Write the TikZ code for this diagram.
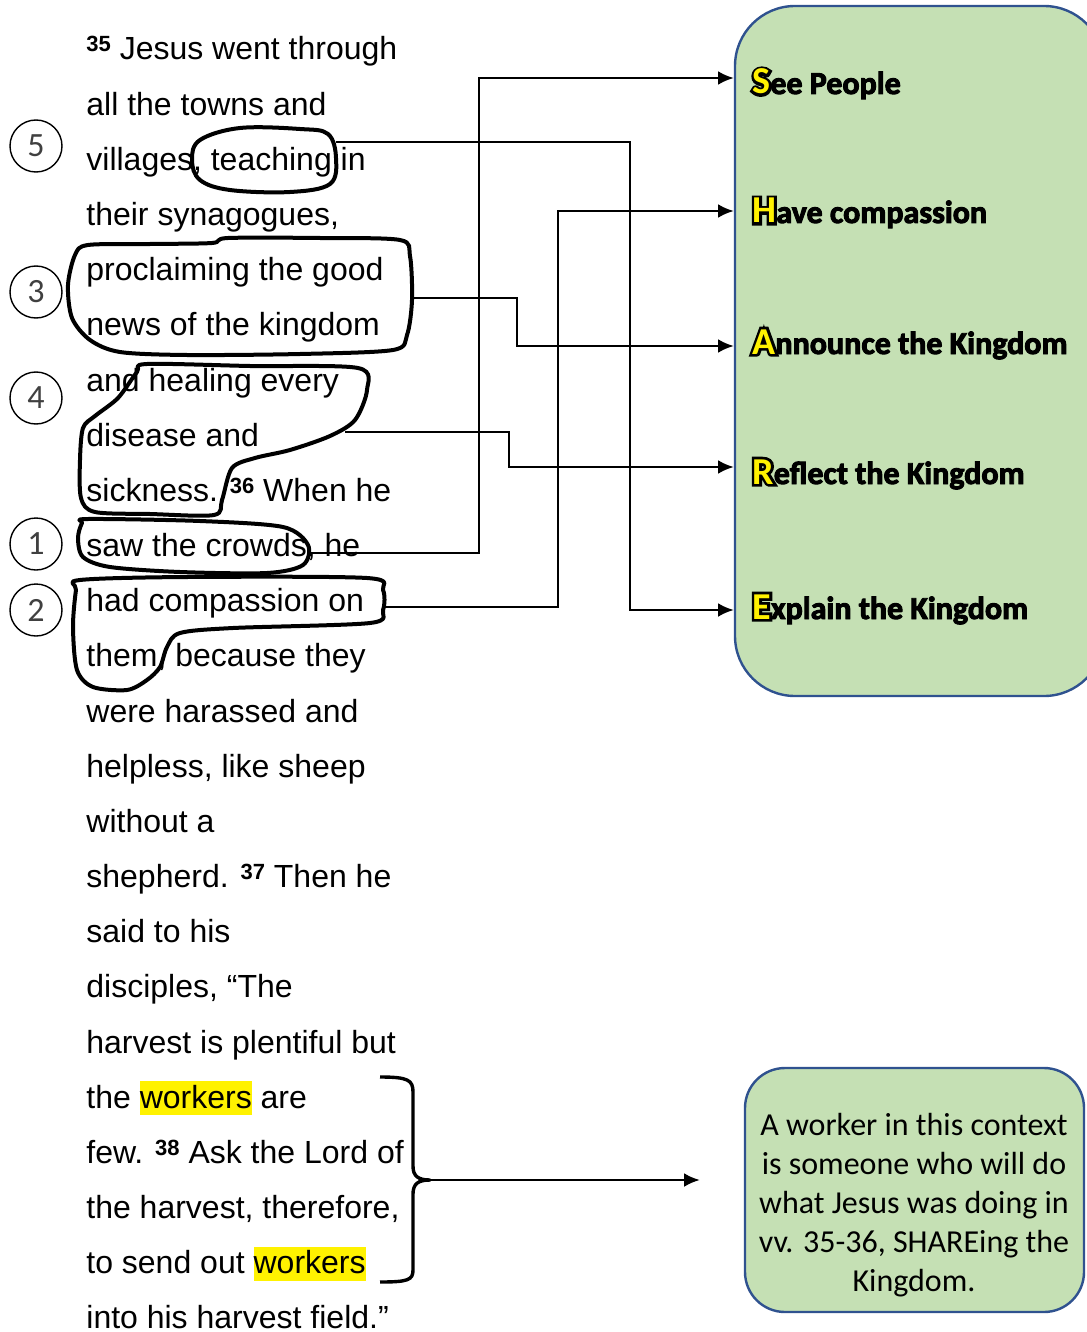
\documentclass[tikz,border=0pt]{standalone}
\usepackage{fontspec}
\setmainfont{Liberation Sans}
\newfontfamily\calibri{Carlito}
\newfontfamily\sharefont[BoldFeatures={FakeBold=3}]{Carlito}
\newfontfamily\shadefont[BoldFeatures={FakeBold=14}]{Carlito}
\usetikzlibrary{positioning,arrows.meta}
\definecolor{boxgreen}{HTML}{C5E0B4}
\definecolor{boxblue}{HTML}{2F528F}
\newcommand{\vs}[1]{\raisebox{4pt}{\fontsize{11}{11}\selectfont\bfseries #1}}
\newcommand{\hl}[1]{{\setlength{\fboxsep}{0pt}\colorbox{yellow}{\rule[-3.5pt]{0pt}{17pt}#1}}}
\newcommand{\share}[2]{\rlap{\shadefont\bfseries\fontsize{19}{19}\selectfont #1}\textcolor{yellow}{\calibri\bfseries\fontsize{19}{19}\selectfont #1}#2}

\begin{document}
\begin{tikzpicture}[
  x=0.5pt, y=-0.5pt,
  verse/.style={anchor=base west, inner sep=0, font=\fontsize{16}{19}\selectfont},
  num/.style={draw, circle, line width=0.7pt, minimum size=26pt, inner sep=0, text=black!75, font=\calibri\fontsize{17}{17}\selectfont},
  ink/.style={line width=2pt, line join=round},
  arr/.style={-{Latex[length=8pt,width=7pt]}, line width=1.4pt},
  panel/.style={draw=boxblue, line width=1.2pt, fill=boxgreen},
  sharetxt/.style={anchor=base west, inner sep=0, font=\sharefont\bfseries\fontsize{16}{19}\selectfont}
]
\useasboundingbox (0,0) rectangle (1086,1332);

\draw[panel, rounded corners=30pt] (735,6) rectangle (1104,696);
\draw[panel, rounded corners=20pt] (745,1068) rectangle (1084,1312);

\foreach \txt [count=\i] in {
  {\vs{35} Jesus went through}, {all the towns and}, {villages, teaching in},
  {their synagogues,}, {proclaiming the good}, {news of the kingdom},
  {and healing every}, {disease and}, {sickness. \vs{36} When he},
  {saw the crowds, he}, {had compassion on}, {them, because they},
  {were harassed and}, {helpless, like sheep}, {without a},
  {shepherd. \vs{37} Then he}, {said to his}, {disciples, “The},
  {harvest is plentiful but}, {the \hl{workers} are}, {few. \vs{38} Ask the Lord of},
  {the harvest, therefore,}, {to send out \hl{workers}}, {into his harvest field.”}}
  \node[verse] (l\i) at (86,{60+(\i-1)*55.17}) {\txt};

\node[num] (c5) at (36,146) {5};
\node[num] (c3) at (36,292) {3};
\node[num] (c4) at (36,398) {4};
\node[num] (c1) at (36,544) {1};
\node[num] (c2) at (36,610) {2};

\draw[ink] plot[smooth cycle, tension=0.6] coordinates {(200,140) (240,128) (300,129) (328,134) (336,158) (330,184) (290,192) (230,190) (200,180) (192,160)};
\draw[ink] plot[smooth cycle, tension=0.5] coordinates {(88,245) (150,244) (212,243) (228,238) (320,238) (400,240) (410,256) (412,300) (407,335) (393,350) (300,354) (187,355) (120,352) (90,340) (72,318) (68,285) (75,255)};
\draw[ink] plot[smooth cycle, tension=0.5] coordinates {(147,364) (250,366) (358,368) (367,390) (355,420) (330,436) (290,450) (255,458) (232,468) (222,500) (214,515) (150,514) (95,512) (81,498) (80,460) (83,428) (95,416) (118,398) (137,372)};
\draw[ink] plot[smooth cycle, tension=0.5] coordinates {(88,519) (200,521) (283,527) (308,545) (303,565) (267,573) (180,572) (110,567) (83,557) (78,538) (82,523)};
\draw[ink] plot[smooth cycle, tension=0.5] coordinates {(80,580) (187,577) (367,578) (383,590) (383,610) (370,623) (233,628) (180,633) (167,647) (160,667) (147,680) (127,690) (93,687) (77,670) (73,627) (76,590)};

\coordinate (teach) at (336,142);
\coordinate (procl) at (411,298);
\coordinate (heal) at (345,432);
\coordinate (crowd) at (309,553);
\coordinate (comp) at (383,607);
\coordinate (inS) at (734,78);
\coordinate (inH) at (734,211);
\coordinate (inA) at (734,346);
\coordinate (inR) at (734,467);
\coordinate (inE) at (734,610);

\draw[arr] (crowd) -- ++(170,0) |- (inS);
\draw[arr] (comp) -- ++(175,0) |- (inH);
\draw[arr] (procl) -- ++(106,0) |- (inA);
\draw[arr] (heal) -- ++(164,0) |- (inR);
\draw[arr] (teach) -- ++(294,0) |- (inE);

\node[sharetxt] (see) at (752,94) {\share{S}{ee People}};
\node[sharetxt] (have) at (752,223) {\share{H}{ave compassion}};
\node[sharetxt] (announce) at (752,354) {\share{A}{nnounce the Kingdom}};
\node[sharetxt] (reflect) at (752,484) {\share{R}{eflect the Kingdom}};
\node[sharetxt] (explain) at (752,619) {\share{E}{xplain the Kingdom}};

\node[align=center, inner sep=0, font=\calibri\fontsize{16}{19.5}\selectfont] (worker) at (914,1205)
  {A worker in this context\\ is someone who will do\\ what Jesus was doing in\\ vv. 35-36, SHAREing the\\ Kingdom.};

\draw[ink, line width=1.7pt] (380,1077) .. controls (408,1077) and (413,1080) .. (413,1092) -- (413,1166)
  .. controls (413,1176) and (418,1180) .. (430,1180) .. controls (418,1180) and (413,1184) .. (413,1194)
  -- (413,1270) .. controls (413,1280) and (408,1282) .. (380,1282);
\coordinate (tip) at (430,1180);
\coordinate (inW) at (700,1180);
\draw[arr] (tip) -- (inW);
\end{tikzpicture}
\end{document}
